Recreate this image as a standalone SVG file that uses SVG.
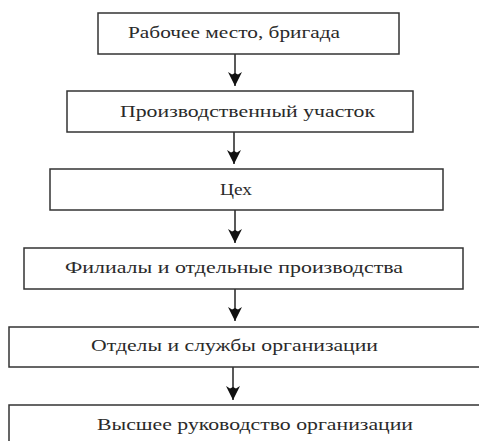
<svg xmlns="http://www.w3.org/2000/svg" width="479" height="441" viewBox="0 0 479 441">
<defs>
<style>
.box{fill:#fff;stroke:#333;stroke-width:1.5}
.lbl{font-family:"Liberation Serif","Times New Roman",serif;font-size:17px;fill:#2a2a2a;text-anchor:start}
.conn{stroke:#222;stroke-width:1.5;fill:none}
</style>
<marker id="ah" markerUnits="userSpaceOnUse" markerWidth="16" markerHeight="16" viewBox="-8 -15 16 16" refX="0" refY="0" orient="0">
<path d="M-7,-14 L-3,-11.5 L0,-13 L3,-11.5 L7,-14 L0,0 Z" fill="#111"/>
</marker>
</defs>
<rect width="479" height="441" fill="#fff"/>
<g id="connectors">
<line class="conn" x1="235" y1="54" x2="235" y2="86" marker-end="url(#ah)"/>
<line class="conn" x1="234" y1="132" x2="234" y2="164" marker-end="url(#ah)"/>
<line class="conn" x1="235" y1="210" x2="235" y2="243" marker-end="url(#ah)"/>
<line class="conn" x1="235" y1="289" x2="235" y2="321" marker-end="url(#ah)"/>
<line class="conn" x1="233" y1="367" x2="233" y2="400" marker-end="url(#ah)"/>
</g>
<g id="n1"><rect class="box" x="98" y="13" width="301" height="41"/><text class="lbl" x="128" y="38" textLength="212" lengthAdjust="spacingAndGlyphs">Рабочее место, бригада</text></g>
<g id="n2"><rect class="box" x="67" y="91" width="346" height="41"/><text class="lbl" x="120" y="117" textLength="255" lengthAdjust="spacingAndGlyphs">Производственный участок</text></g>
<g id="n3"><rect class="box" x="50" y="169" width="393" height="41"/><text class="lbl" x="220" y="195" textLength="32" lengthAdjust="spacingAndGlyphs">Цех</text></g>
<g id="n4"><rect class="box" x="24" y="248" width="439" height="41"/><text class="lbl" x="65" y="273" textLength="338" lengthAdjust="spacingAndGlyphs">Филиалы и отдельные производства</text></g>
<g id="n5"><rect class="box" x="9" y="327" width="480" height="40"/><text class="lbl" x="91" y="351" textLength="287" lengthAdjust="spacingAndGlyphs">Отделы и службы организации</text></g>
<g id="n6"><rect class="box" x="9" y="405" width="480" height="50"/><text class="lbl" x="97" y="430" textLength="316" lengthAdjust="spacingAndGlyphs">Высшее руководство организации</text></g>
</svg>
